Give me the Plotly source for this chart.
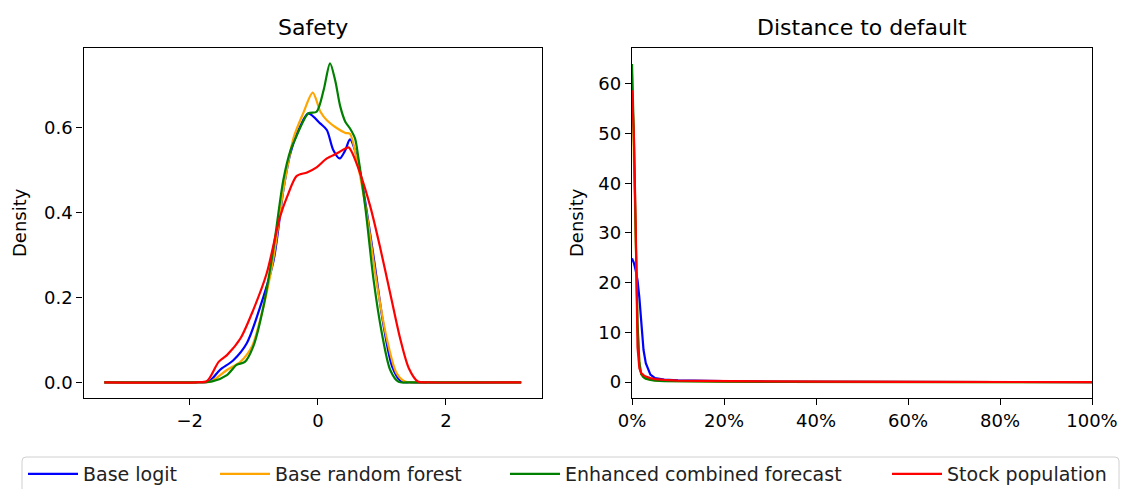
import plotly.graph_objects as go

W, H = 1121, 489

# ---------------- data ----------------
series_names = ["Base logit", "Base random forest", "Enhanced combined forecast", "Stock population"]
series_colors = ["blue", "orange", "green", "red"]

# Safety KDE (left panel)
safety_x_logit = [-3.335, -1.90, -1.70, -1.53, -1.32, -1.11, -0.90, -0.69, -0.54, -0.43, -0.28, -0.15, 0.04, 0.14,
                  0.24, 0.34, 0.43, 0.50, 0.61, 0.71, 0.87, 1.02, 1.16, 1.30, 1.45, 3.175]
safety_y_logit = [0, 0, 0.002, 0.029, 0.052, 0.092, 0.178, 0.288, 0.452, 0.539, 0.601, 0.633, 0.609, 0.594,
                  0.547, 0.527, 0.547, 0.572, 0.531, 0.452, 0.296, 0.139, 0.037, 0.002, 0, 0]

safety_x_rf = [-3.335, -1.90, -1.67, -1.42, -1.21, -1.03, -0.85, -0.69, -0.54, -0.38, -0.23, -0.08, 0.04, 0.14,
               0.30, 0.43, 0.50, 0.61, 0.77, 0.92, 1.08, 1.23, 1.37, 1.55, 3.175]
safety_y_rf = [0, 0, 0.002, 0.029, 0.048, 0.084, 0.178, 0.296, 0.452, 0.575, 0.633, 0.682, 0.637, 0.617,
               0.598, 0.587, 0.585, 0.523, 0.390, 0.233, 0.100, 0.021, 0.001, 0, 0]

safety_x_enh = [-3.335, -1.90, -1.65, -1.42, -1.27, -1.14, -1.01, -0.85, -0.69, -0.54, -0.43, -0.35, -0.15, -0.02,
                0.09, 0.19, 0.27, 0.35, 0.43, 0.50, 0.58, 0.63, 0.74, 0.87, 1.00, 1.13, 1.26, 1.45, 3.175]
safety_y_enh = [0, 0, 0.002, 0.017, 0.041, 0.048, 0.084, 0.178, 0.319, 0.476, 0.545, 0.574, 0.633, 0.637,
                0.688, 0.751, 0.711, 0.649, 0.613, 0.598, 0.574, 0.531, 0.413, 0.241, 0.115, 0.029, 0.001, 0, 0]

safety_x_pop = [-3.335, -1.90, -1.73, -1.55, -1.42, -1.21, -1.01, -0.80, -0.59, -0.48, -0.33, -0.17, -0.02, 0.14,
                0.30, 0.48, 0.52, 0.66, 0.82, 0.97, 1.13, 1.29, 1.42, 1.56, 1.75, 3.175]
safety_y_pop = [0, 0, 0.003, 0.048, 0.064, 0.103, 0.170, 0.256, 0.390, 0.437, 0.486, 0.494, 0.506, 0.527,
                0.539, 0.553, 0.545, 0.492, 0.413, 0.319, 0.209, 0.100, 0.033, 0.002, 0, 0]

# Distance to default KDE (right panel)
dd_x = [0, 0.004, 0.008, 0.012, 0.016, 0.02, 0.025, 0.03, 0.04, 0.05, 0.07, 0.1, 0.15, 0.2, 0.3, 0.4, 0.6, 0.8, 1.0]
dd_y_logit = [24.9, 24.0, 22.5, 20.5, 17.0, 11.5, 6.5, 3.8, 1.5, 0.8, 0.5, 0.35, 0.25, 0.2, 0.12, 0.08, 0.04, 0.02, 0.01]
dd_y_rf = [62.0, 48.0, 29.0, 11.0, 4.0, 1.6, 1.0, 0.7, 0.45, 0.32, 0.22, 0.16, 0.1, 0.08, 0.05, 0.03, 0.01, 0.005, 0]
dd_y_enh = [64.0, 50.0, 30.0, 12.0, 4.0, 1.6, 1.0, 0.7, 0.45, 0.3, 0.2, 0.15, 0.1, 0.08, 0.05, 0.03, 0.01, 0.005, 0]
dd_y_pop = [58.7, 50.0, 32.0, 7.0, 2.8, 1.8, 1.4, 1.1, 0.8, 0.6, 0.45, 0.3, 0.25, 0.2, 0.12, 0.08, 0.04, 0.02, 0.01]

titles = ["Safety", "Distance to default"]
y_label = "Density"
safety_xtick_vals = [-2, 0, 2]
safety_xtick_text = ["\u22122", "0", "2"]
safety_ytick_vals = [0.0, 0.2, 0.4, 0.6]
safety_ytick_text = ["0.0", "0.2", "0.4", "0.6"]
dd_xtick_vals = [0, 0.2, 0.4, 0.6, 0.8, 1.0]
dd_xtick_text = ["0%", "20%", "40%", "60%", "80%", "100%"]
dd_ytick_vals = [0, 10, 20, 30, 40, 50, 60]
dd_ytick_text = ["0", "10", "20", "30", "40", "50", "60"]

safety_x = [safety_x_logit, safety_x_rf, safety_x_enh, safety_x_pop]
safety_y = [safety_y_logit, safety_y_rf, safety_y_enh, safety_y_pop]
dd_y = [dd_y_logit, dd_y_rf, dd_y_enh, dd_y_pop]

# ---------------- figure ----------------
FONT = "DejaVu Sans"
fig = go.Figure()
legend_ids = ["legend", "legend2", "legend3", "legend4"]

for i, name in enumerate(series_names):
    fig.add_trace(go.Scatter(
        x=safety_x[i], y=safety_y[i], mode="lines", name=name,
        line=dict(color=series_colors[i], width=2.2, shape="spline", smoothing=0.8),
        xaxis="x", yaxis="y", legend=legend_ids[i], showlegend=True))
for i, name in enumerate(series_names):
    fig.add_trace(go.Scatter(
        x=dd_x, y=dd_y[i], mode="lines", name=name,
        line=dict(color=series_colors[i], width=2.2),
        xaxis="x2", yaxis="y2", showlegend=False))

axis_common = dict(showline=True, linecolor="black", linewidth=1.3, mirror=True,
                   ticks="outside", ticklen=6, tickwidth=1.3, tickcolor="black",
                   showgrid=False, zeroline=False, automargin=False,
                   tickfont=dict(family=FONT, size=18, color="black"))

ydom = [1 - 398 / H, 1 - 48 / H]
fig.update_layout(
    width=W, height=H,
    margin=dict(l=0, r=0, t=0, b=0, autoexpand=False),
    paper_bgcolor="white", plot_bgcolor="white",
    font=dict(family=FONT, color="black"),
    xaxis=dict(domain=[83.5 / W, 542 / W], range=[-3.66, 3.50], anchor="y",
               tickvals=safety_xtick_vals, ticktext=safety_xtick_text, **axis_common),
    yaxis=dict(domain=ydom, range=[-0.037, 0.787], anchor="x",
               tickvals=safety_ytick_vals, ticktext=safety_ytick_text, **axis_common),
    xaxis2=dict(domain=[632 / W, 1092 / W], range=[0, 1], anchor="y2",
                tickvals=dd_xtick_vals, ticktext=dd_xtick_text, **axis_common),
    yaxis2=dict(domain=ydom, range=[-3.2, 67.2], anchor="x2",
                tickvals=dd_ytick_vals, ticktext=dd_ytick_text, **axis_common),
)

# legends: one per entry, laid out like matplotlib's single-row legend
line_starts = [28, 220, 510, 892]
for lid, xs in zip(legend_ids, line_starts):
    fig.update_layout({lid: dict(
        x=(xs - 5) / W, y=1 - 474 / H, xanchor="left", yanchor="middle",
        orientation="h", bgcolor="rgba(0,0,0,0)", borderwidth=0,
        itemwidth=50, font=dict(family=FONT, size=19, color="#222222"))})

# legend frame
x0, x1 = 22 / W, 1119 / W
yt, yb = 1 - 457 / H, 1 - 505 / H
rx, ry = 4 / W, 4 / H
frame_path = (f"M{x0},{yb} L{x0},{yt - ry} Q{x0},{yt} {x0 + rx},{yt} "
              f"L{x1 - rx},{yt} Q{x1},{yt} {x1},{yt - ry} L{x1},{yb} Z")
fig.add_shape(type="path", path=frame_path, xref="paper", yref="paper",
              line=dict(color="#d0d0d0", width=1), fillcolor="rgba(255,255,255,0.8)", layer="below")

# titles
for t, cx in zip(titles, [(83.5 + 542) / 2, (632 + 1092) / 2]):
    fig.add_annotation(text=t, x=cx / W, y=1 - 27 / H, xref="paper", yref="paper",
                       xanchor="center", yanchor="middle", showarrow=False,
                       font=dict(family=FONT, size=22, color="black"))
# y labels
for cx in [19, 576]:
    fig.add_annotation(text=y_label, x=cx / W, y=1 - 223 / H, xref="paper", yref="paper",
                       xanchor="center", yanchor="middle", showarrow=False, textangle=-90,
                       font=dict(family=FONT, size=18, color="black"))

fig.write_html("out.html", config={"displayModeBar": False},
               post_script="document.body.style.margin='0';document.body.style.overflow='hidden';")
